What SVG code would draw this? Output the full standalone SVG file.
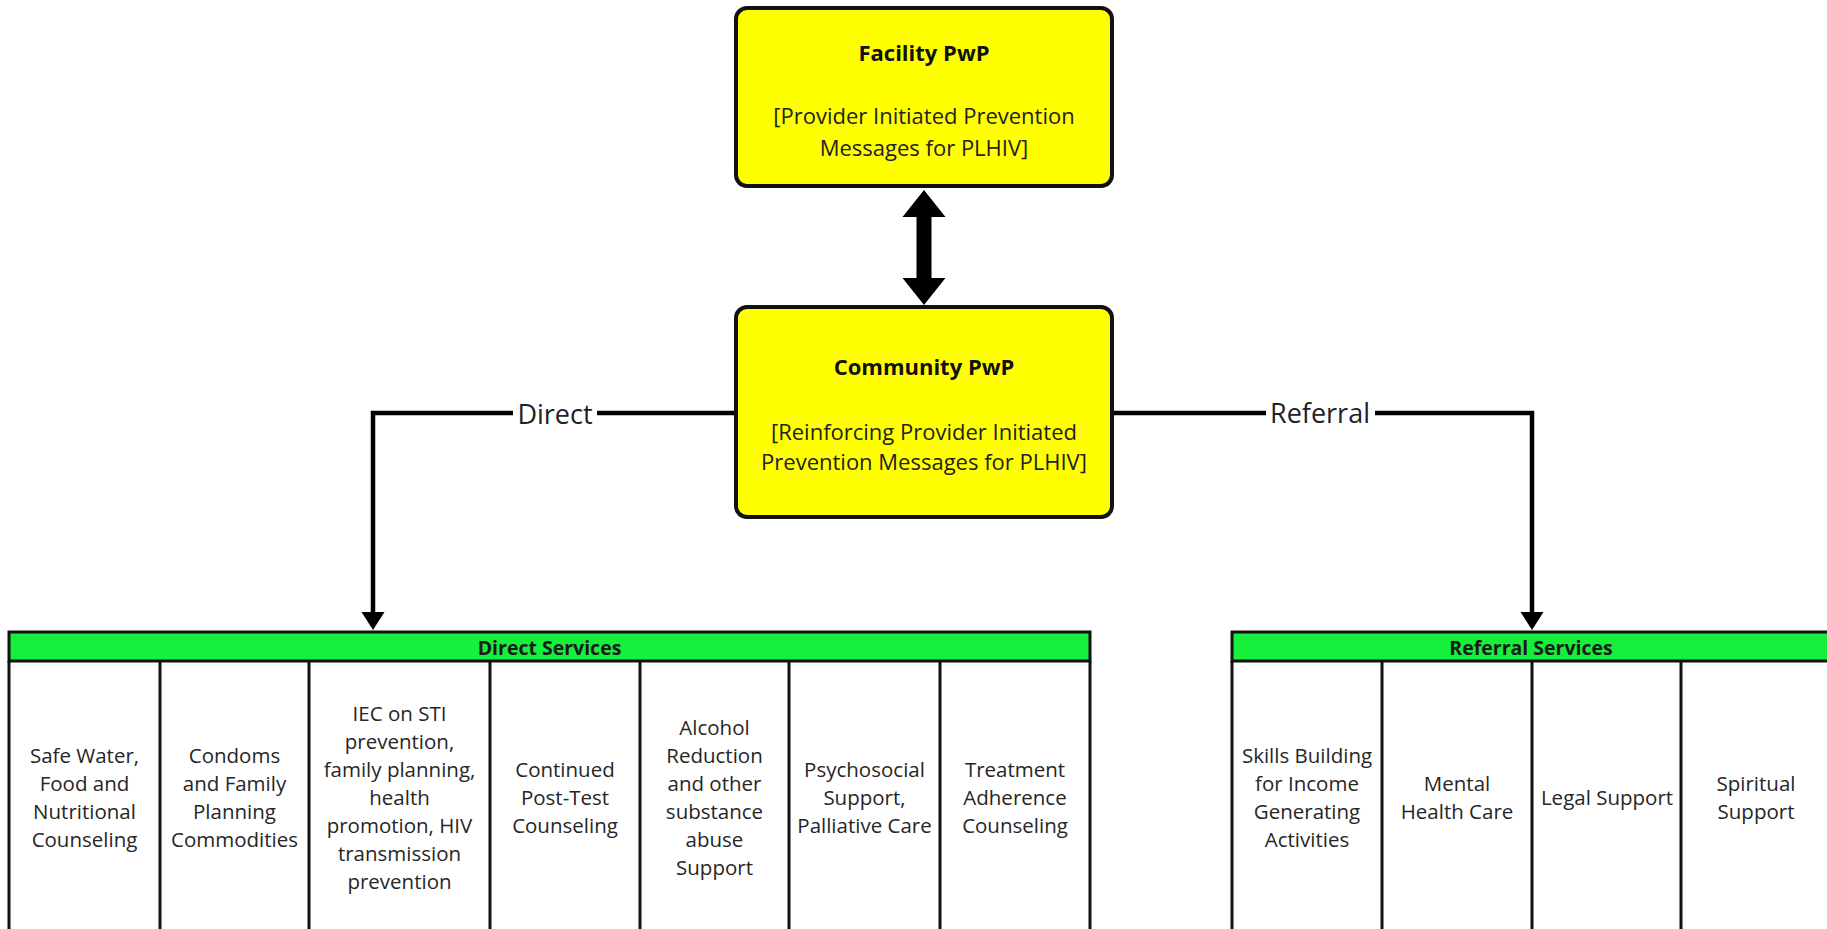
<svg xmlns="http://www.w3.org/2000/svg" width="1827" height="929" viewBox="0 0 1827 929">
  <style>
    .box { fill: #FFFF00; stroke: #111; stroke-width: 4; }
    .ttl { font-family: "Open Sans", "Noto Sans", sans-serif; font-weight: bold; font-size: 22px; fill: #111; text-anchor: middle; }
    .sub { font-family: "Open Sans", "Noto Sans", sans-serif; font-size: 22px; fill: #222; text-anchor: middle; }
    .lbl { font-family: "Open Sans", "Noto Sans", sans-serif; font-size: 27px; fill: #222; text-anchor: middle; }
    .conn { fill: none; stroke: #000; stroke-width: 4.5; }
    .hdr { fill: #14F03C; stroke: #111; stroke-width: 3; }
    .col { stroke: #111; stroke-width: 3; fill: none; }
    .hdrt { font-family: "Open Sans", "Noto Sans", sans-serif; font-weight: bold; font-size: 19.5px; fill: #1a1a1a; text-anchor: middle; }
    .cell { font-family: "Open Sans", "Noto Sans", sans-serif; font-size: 20.5px; fill: #262626; text-anchor: middle; }
  </style>
  <defs>
    <marker id="arr" markerUnits="userSpaceOnUse" markerWidth="20" markerHeight="24" refX="0" refY="11.5" orient="auto">
      <path d="M0,0 L18,11.5 L0,23 Z" fill="#000"/>
    </marker>
  </defs>
  <rect width="1827" height="929" fill="#fff"/>

  <g id="connectors">
    <polygon points="924,190 945.5,217 931.5,217 931.5,278 945.5,278 924,305 902.5,278 916.5,278 916.5,217 902.5,217" fill="#000"/>
    <path class="conn" d="M737,413 H597 M513,413 H373 V612" marker-end="url(#arr)"/>
    <path class="conn" d="M1112,413 H1266 M1375,413 H1532 V612" marker-end="url(#arr)"/>
    <text class="lbl" x="555" y="424">Direct</text>
    <text class="lbl" x="1320" y="423">Referral</text>
  </g>

  <g id="facility">
    <rect class="box" x="736" y="8" width="376" height="178" rx="11"/>
    <text class="ttl" x="924" y="61">Facility PwP</text>
    <text class="sub" x="924" y="124">[Provider Initiated Prevention</text>
    <text class="sub" x="924" y="156">Messages for PLHIV]</text>
  </g>

  <g id="community">
    <rect class="box" x="736" y="307" width="376" height="210" rx="11"/>
    <text class="ttl" x="924" y="375">Community PwP</text>
    <text class="sub" x="924" y="440">[Reinforcing Provider Initiated</text>
    <text class="sub" x="924" y="470">Prevention Messages for PLHIV]</text>
  </g>

  <g id="direct-services">
    <rect class="hdr" x="9" y="632" width="1081" height="29"/>
    <text class="hdrt" x="549.5" y="655">Direct Services</text>
    <path class="col" d="M9,661 V940 M160,661 V940 M309,661 V940 M490,661 V940 M640,661 V940 M789,661 V940 M940,661 V940 M1090,661 V940"/>
    <g id="d1"><text class="cell" x="84.5" y="763"><tspan x="84.5">Safe Water,</tspan><tspan x="84.5" dy="28">Food and</tspan><tspan x="84.5" dy="28">Nutritional</tspan><tspan x="84.5" dy="28">Counseling</tspan></text></g>
    <g id="d2"><text class="cell" x="234.5" y="763"><tspan x="234.5">Condoms</tspan><tspan x="234.5" dy="28">and Family</tspan><tspan x="234.5" dy="28">Planning</tspan><tspan x="234.5" dy="28">Commodities</tspan></text></g>
    <g id="d3"><text class="cell" x="399.5" y="721"><tspan x="399.5">IEC on STI</tspan><tspan x="399.5" dy="28">prevention,</tspan><tspan x="399.5" dy="28">family planning,</tspan><tspan x="399.5" dy="28">health</tspan><tspan x="399.5" dy="28">promotion, HIV</tspan><tspan x="399.5" dy="28">transmission</tspan><tspan x="399.5" dy="28">prevention</tspan></text></g>
    <g id="d4"><text class="cell" x="565" y="777"><tspan x="565">Continued</tspan><tspan x="565" dy="28">Post-Test</tspan><tspan x="565" dy="28">Counseling</tspan></text></g>
    <g id="d5"><text class="cell" x="714.5" y="735"><tspan x="714.5">Alcohol</tspan><tspan x="714.5" dy="28">Reduction</tspan><tspan x="714.5" dy="28">and other</tspan><tspan x="714.5" dy="28">substance</tspan><tspan x="714.5" dy="28">abuse</tspan><tspan x="714.5" dy="28">Support</tspan></text></g>
    <g id="d6"><text class="cell" x="864.5" y="777"><tspan x="864.5">Psychosocial</tspan><tspan x="864.5" dy="28">Support,</tspan><tspan x="864.5" dy="28">Palliative Care</tspan></text></g>
    <g id="d7"><text class="cell" x="1015" y="777"><tspan x="1015">Treatment</tspan><tspan x="1015" dy="28">Adherence</tspan><tspan x="1015" dy="28">Counseling</tspan></text></g>
  </g>

  <g id="referral-services">
    <rect class="hdr" x="1232" y="632" width="610" height="29"/>
    <text class="hdrt" x="1531" y="655">Referral Services</text>
    <path class="col" d="M1232,661 V940 M1382,661 V940 M1532,661 V940 M1681,661 V940"/>
    <g id="r1"><text class="cell" x="1307" y="763"><tspan x="1307">Skills Building</tspan><tspan x="1307" dy="28">for Income</tspan><tspan x="1307" dy="28">Generating</tspan><tspan x="1307" dy="28">Activities</tspan></text></g>
    <g id="r2"><text class="cell" x="1457" y="791"><tspan x="1457">Mental</tspan><tspan x="1457" dy="28">Health Care</tspan></text></g>
    <g id="r3"><text class="cell" x="1607" y="805">Legal Support</text></g>
    <g id="r4"><text class="cell" x="1756" y="791"><tspan x="1756">Spiritual</tspan><tspan x="1756" dy="28">Support</tspan></text></g>
  </g>
</svg>
